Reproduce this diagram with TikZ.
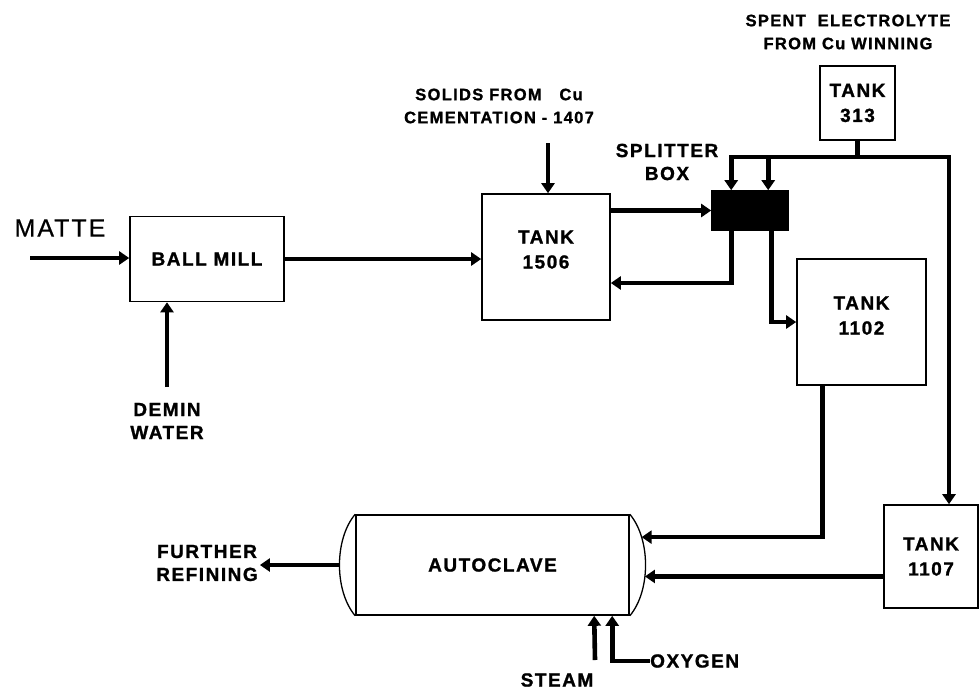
\documentclass[tikz,border=0pt]{standalone}
\usepackage{fontspec}
\setmainfont{Liberation Sans}[LetterSpace=8, BoldFeatures={FakeBold=1.2}]
\usetikzlibrary{arrows.meta,positioning,calc}

\tikzset{
  pipe/.style={line width=4.6pt},
  flow/.style={pipe, -{Triangle[length=10pt, width=13pt]}},
  unit/.style={draw, line width=1.6pt, inner sep=2pt, align=center,
    font=\bfseries\fontsize{19}{25}\selectfont},
  tag/.style={inner sep=2pt, align=center, font=\bfseries\fontsize{19}{23}\selectfont},
  small tag/.style={tag, font=\bfseries\fontsize{16.5}{23}\selectfont}
}

\begin{document}
\begin{tikzpicture}[x=1pt, y=-1pt]
  \useasboundingbox (0,0) rectangle (979,694);

  % vessels
  \node[unit, minimum width=154pt, minimum height=85pt] (mill) at (207,259) {BALL MILL};
  \node[unit, minimum width=128pt, minimum height=126pt, text depth=15pt] (t1506) at (546,257) {TANK\\1506};
  \node[unit, minimum width=75pt, minimum height=74pt] (t313) at (857.5,103) {TANK\\313};
  \node[draw, fill=black, line width=1.6pt, minimum width=76pt, minimum height=39pt] (split) at (750,210.5) {};
  \node[unit, minimum width=129pt, minimum height=126pt, text depth=13pt] (t1102) at (861.5,322) {TANK\\1102};
  \node[unit, minimum width=94pt, minimum height=103pt] (t1107) at (931,556.5) {TANK\\1107};
  \node[unit, minimum width=273pt, minimum height=100pt] (clave) at (492.5,565) {AUTOCLAVE};
  \draw[line width=1.3pt] (clave.north west) .. controls +(-21,25) and +(-21,-25) .. (clave.south west)
    coordinate[pos=0.5] (out);
  \draw[line width=1.3pt] (clave.north east) .. controls +(21,25) and +(21,-25) .. (clave.south east)
    coordinate[pos=0.25] (in1) coordinate[pos=0.6] (in2);

  % stream labels
  \node[tag, font=\fontsize{25}{28}\selectfont\addfontfeature{FakeBold=0.6}] (matte) at (60,228) {MATTE};
  \node[tag] (demin) at (167,421) {DEMIN\\WATER};
  \node[small tag] (solids) at (499,106) {SOLIDS FROM\ \ \ Cu\\CEMENTATION - 1407};
  \node[tag] (splitlbl) at (667,162) {SPLITTER\\BOX};
  \node[small tag] (spent) at (848,32) {SPENT\ \ ELECTROLYTE\\FROM Cu WINNING};
  \node[tag] (further) at (207,563) {FURTHER\\REFINING};
  \node[tag] (steam) at (557,680) {STEAM};
  \node[tag, anchor=west, inner sep=0pt] (oxygen) at (650,661) {OXYGEN};

  % ports
  \coordinate (feed) at (30,258);
  \coordinate (water) at (167,387);
  \coordinate (drop) at (548,143);
  \coordinate (hdr) at (949,157);
  \coordinate (s1) at ($(split.north west)+(20,0)$);
  \coordinate (s2) at ($(split.north west)+(57,0)$);
  \coordinate (b1) at ($(split.south west)+(20,0)$);
  \coordinate (b2) at ($(split.south west)+(60,0)$);
  \coordinate (p1102) at ($(t1102.south west)+(26,0)$);
  \coordinate (stm) at (595,660);
  \coordinate (st) at ($(clave.south west)+(239,0)$);
  \coordinate (o2) at ($(clave.south west)+(257,0)$);

  % streams
  \draw[flow] (feed) -- (feed -| mill.west);
  \draw[flow] (water) -- (water |- mill.south);
  \draw[flow] (mill.east) -- (mill.east -| t1506.west);
  \draw[flow] (drop) -- (drop |- t1506.north);
  \draw[flow] (t1506.east |- split.west) -- (split.west);
  \draw[flow] (b1) |- ($(t1506.east)+(0,26)$);
  \draw[flow] (b2) |- (t1102.west);
  \draw[pipe] (t313.south) -- (t313.south |- hdr);
  \draw[flow] (s2 |- hdr) -- (s2);
  \draw[pipe, {Triangle[length=10pt, width=13pt]}-{Triangle[length=10pt, width=13pt]}]
    (s1) |- (hdr) -- (hdr |- t1107.north);
  \draw[flow] (p1102) |- (in1);
  \draw[flow] (t1107.west |- in2) -- (in2);
  \draw[flow] (out) -- (out -| further.east);
  \draw[flow] (stm) -- (st);
  \draw[flow] (oxygen.west) -| (o2);
\end{tikzpicture}
\end{document}
